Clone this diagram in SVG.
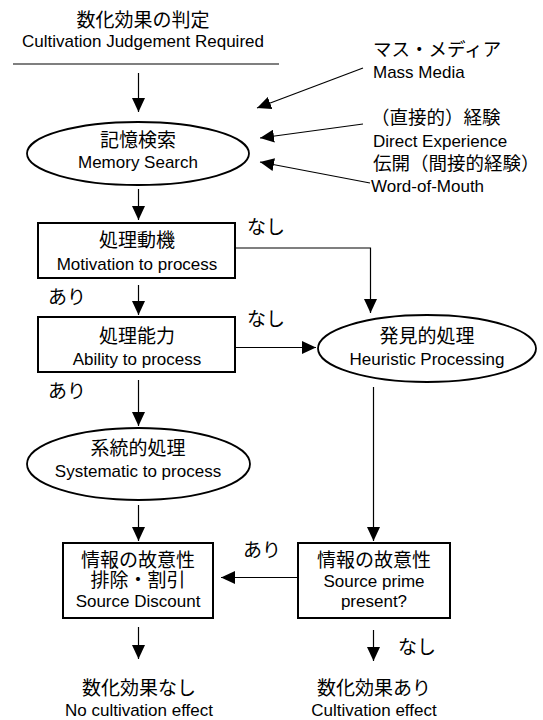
<svg xmlns="http://www.w3.org/2000/svg" width="543" height="720" viewBox="0 0 543 720">
<style>
.jp{font-family:"Noto Sans CJK JP","Noto Sans CJK SC",sans-serif;font-size:19px;fill:#000}
.sm{font-size:18.5px}
.en{font-family:"Liberation Sans",Arial,sans-serif;font-size:17px;fill:#000}
.c{text-anchor:middle}
.box{fill:#fff;stroke:#000;stroke-width:2}
.ell{fill:#fff;stroke:#000;stroke-width:1.8}
.ln{fill:none;stroke:#000;stroke-width:1.2}
.arr{fill:none;stroke:#000;stroke-width:1.2;marker-end:url(#ah)}
</style>
<defs>
<marker id="ah" markerUnits="userSpaceOnUse" markerWidth="14" markerHeight="13" refX="14" refY="6.5" orient="auto">
<path d="M0,0 L14,6.5 L0,13 z" fill="#000"/>
</marker>
</defs>
<rect width="543" height="720" fill="#fff"/>

<g id="start">
<text class="jp c" x="143" y="27">数化効果の判定</text>
<text class="en c" x="143" y="47">Cultivation Judgement Required</text>
<line class="ln" x1="13" y1="64" x2="279" y2="64"/>
</g>

<g id="sources">
<text class="jp sm" x="373" y="56">マス・メディア</text>
<text class="en" x="373" y="78">Mass Media</text>
<text class="jp sm" x="371" y="124">（直接的）経験</text>
<text class="en" x="373" y="147">Direct Experience</text>
<text class="jp sm" x="373" y="170">伝開（間接的経験）</text>
<text class="en" x="371" y="192">Word-of-Mouth</text>
</g>

<g id="memory">
<ellipse class="ell" cx="138" cy="153.5" rx="111" ry="31.5"/>
<text class="jp c" x="138" y="147">記憶検索</text>
<text class="en c" x="138" y="168">Memory Search</text>
</g>

<g id="motivation">
<rect class="box" x="38" y="223" width="197" height="55"/>
<text class="jp c" x="137" y="247">処理動機</text>
<text class="en c" x="137" y="270">Motivation to process</text>
</g>

<g id="ability">
<rect class="box" x="38" y="317" width="197" height="55"/>
<text class="jp c" x="137" y="343">処理能力</text>
<text class="en c" x="137" y="365">Ability to process</text>
</g>

<g id="heuristic">
<ellipse class="ell" cx="427" cy="348.5" rx="109" ry="33.5"/>
<text class="jp c" x="427" y="343">発見的処理</text>
<text class="en c" x="427" y="365">Heuristic Processing</text>
</g>

<g id="systematic">
<ellipse class="ell" cx="138.5" cy="464" rx="111.5" ry="36"/>
<text class="jp c" x="138" y="455">系統的処理</text>
<text class="en c" x="138" y="477">Systematic to process</text>
</g>

<g id="discount">
<rect class="box" x="63" y="543" width="150" height="75"/>
<text class="jp c" x="138" y="567">情報の故意性</text>
<text class="jp c" x="138" y="587">排除・割引</text>
<text class="en c" x="138" y="607">Source Discount</text>
</g>

<g id="prime">
<rect class="box" x="298" y="543" width="152" height="75"/>
<text class="jp c" x="374" y="567">情報の故意性</text>
<text class="en c" x="374" y="587">Source prime</text>
<text class="en c" x="374" y="607">present?</text>
</g>

<g id="no-effect">
<text class="jp c" x="139" y="695">数化効果なし</text>
<text class="en c" x="139" y="716">No cultivation effect</text>
</g>

<g id="effect">
<text class="jp c" x="374" y="695">数化効果あり</text>
<text class="en c" x="374" y="716">Cultivation effect</text>
</g>

<g id="connectors">
<line class="arr" x1="138.5" y1="73" x2="138.5" y2="112"/>
<line class="arr" x1="363" y1="68" x2="257" y2="108"/>
<line class="arr" x1="363" y1="124" x2="260" y2="138"/>
<line class="arr" x1="370" y1="183" x2="260" y2="162"/>
<line class="arr" x1="138.5" y1="189" x2="138.5" y2="220"/>
<polyline class="arr" points="235,248 370.5,248 370.5,313"/>
<line class="arr" x1="138.5" y1="285" x2="138.5" y2="315"/>
<line class="arr" x1="235" y1="347.5" x2="316" y2="347.5"/>
<line class="arr" x1="138.5" y1="380" x2="138.5" y2="426"/>
<line class="arr" x1="373.5" y1="387" x2="373.5" y2="541"/>
<line class="arr" x1="138.5" y1="505" x2="138.5" y2="541"/>
<line class="arr" x1="298" y1="577.5" x2="221" y2="577.5"/>
<line class="arr" x1="138.5" y1="627" x2="138.5" y2="659"/>
<line class="arr" x1="373.5" y1="630" x2="373.5" y2="661"/>
<text class="jp" x="247" y="234">なし</text>
<text class="jp" x="48" y="304">あり</text>
<text class="jp" x="247" y="326">なし</text>
<text class="jp" x="48" y="398">あり</text>
<text class="jp" x="243" y="557">あり</text>
<text class="jp" x="398" y="654">なし</text>
</g>
</svg>
